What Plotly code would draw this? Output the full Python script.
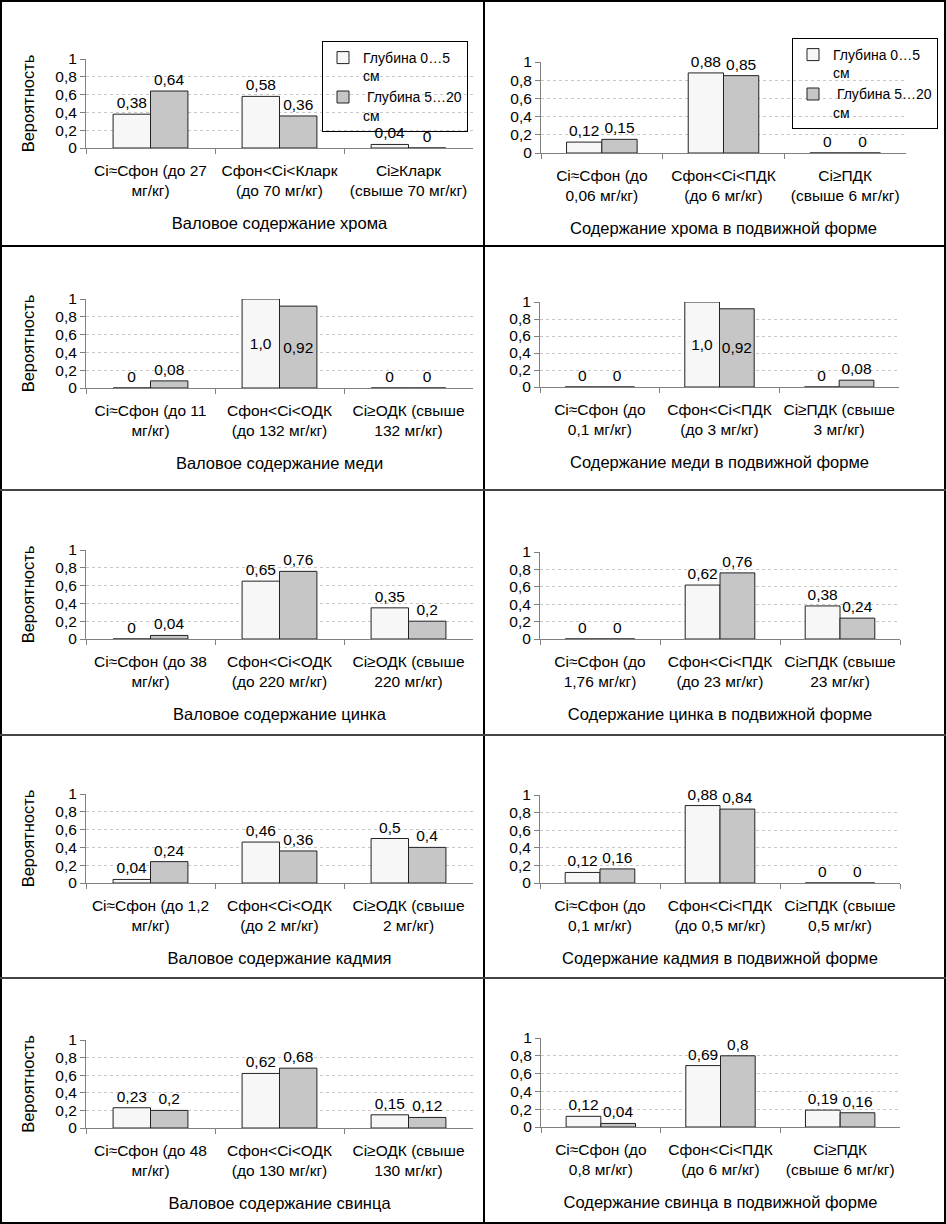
import plotly.graph_objects as go

W, H = 946, 1224

# ---------------- data ----------------
cats_cr_total = ["Ci≈Сфон (до 27<br>мг/кг)", "Сфон<Ci<Кларк<br>(до 70 мг/кг)", "Ci≥Кларк<br>(свыше 70 мг/кг)"]
cr_total_0_5 = [0.38, 0.58, 0.04]
cr_total_5_20 = [0.64, 0.36, 0.0]

cats_cr_mob = ["Ci≈Сфон (до<br>0,06 мг/кг)", "Сфон<Ci<ПДК<br>(до 6 мг/кг)", "Ci≥ПДК<br>(свыше 6 мг/кг)"]
cr_mob_0_5 = [0.12, 0.88, 0.0]
cr_mob_5_20 = [0.15, 0.85, 0.0]

cats_cu_total = ["Ci≈Сфон (до 11<br>мг/кг)", "Сфон<Ci<ОДК<br>(до 132 мг/кг)", "Ci≥ОДК (свыше<br>132 мг/кг)"]
cu_total_0_5 = [0.0, 1.0, 0.0]
cu_total_5_20 = [0.08, 0.92, 0.0]

cats_cu_mob = ["Ci≈Сфон (до<br>0,1 мг/кг)", "Сфон<Ci<ПДК<br>(до 3 мг/кг)", "Ci≥ПДК (свыше<br>3 мг/кг)"]
cu_mob_0_5 = [0.0, 1.0, 0.0]
cu_mob_5_20 = [0.0, 0.92, 0.08]

cats_zn_total = ["Ci≈Сфон (до 38<br>мг/кг)", "Сфон<Ci<ОДК<br>(до 220 мг/кг)", "Ci≥ОДК (свыше<br>220 мг/кг)"]
zn_total_0_5 = [0.0, 0.65, 0.35]
zn_total_5_20 = [0.04, 0.76, 0.2]

cats_zn_mob = ["Ci≈Сфон (до<br>1,76 мг/кг)", "Сфон<Ci<ПДК<br>(до 23 мг/кг)", "Ci≥ПДК (свыше<br>23 мг/кг)"]
zn_mob_0_5 = [0.0, 0.62, 0.38]
zn_mob_5_20 = [0.0, 0.76, 0.24]

cats_cd_total = ["Ci≈Сфон (до 1,2<br>мг/кг)", "Сфон<Ci<ОДК<br>(до 2 мг/кг)", "Ci≥ОДК (свыше<br>2 мг/кг)"]
cd_total_0_5 = [0.04, 0.46, 0.5]
cd_total_5_20 = [0.24, 0.36, 0.4]

cats_cd_mob = ["Ci≈Сфон (до<br>0,1 мг/кг)", "Сфон<Ci<ПДК<br>(до 0,5 мг/кг)", "Ci≥ПДК (свыше<br>0,5 мг/кг)"]
cd_mob_0_5 = [0.12, 0.88, 0.0]
cd_mob_5_20 = [0.16, 0.84, 0.0]

cats_pb_total = ["Ci≈Сфон (до 48<br>мг/кг)", "Сфон<Ci<ОДК<br>(до 130 мг/кг)", "Ci≥ОДК (свыше<br>130 мг/кг)"]
pb_total_0_5 = [0.23, 0.62, 0.15]
pb_total_5_20 = [0.2, 0.68, 0.12]

cats_pb_mob = ["Ci≈Сфон (до<br>0,8 мг/кг)", "Сфон<Ci<ПДК<br>(до 6 мг/кг)", "Ci≥ПДК<br>(свыше 6 мг/кг)"]
pb_mob_0_5 = [0.12, 0.69, 0.19]
pb_mob_5_20 = [0.04, 0.8, 0.16]

titles = [
    "Валовое содержание хрома", "Содержание хрома в подвижной форме",
    "Валовое содержание меди", "Содержание меди в подвижной форме",
    "Валовое содержание цинка", "Содержание цинка в подвижной форме",
    "Валовое содержание кадмия", "Содержание кадмия в подвижной форме",
    "Валовое содержание свинца", "Содержание свинца в подвижной форме",
]
series_names = ["Глубина 0…5<br>см", "&nbsp;Глубина 5…20<br>см"]
y_title = "Вероятность"

panels = [
    (cats_cr_total, cr_total_0_5, cr_total_5_20),
    (cats_cr_mob, cr_mob_0_5, cr_mob_5_20),
    (cats_cu_total, cu_total_0_5, cu_total_5_20),
    (cats_cu_mob, cu_mob_0_5, cu_mob_5_20),
    (cats_zn_total, zn_total_0_5, zn_total_5_20),
    (cats_zn_mob, zn_mob_0_5, zn_mob_5_20),
    (cats_cd_total, cd_total_0_5, cd_total_5_20),
    (cats_cd_mob, cd_mob_0_5, cd_mob_5_20),
    (cats_pb_total, pb_total_0_5, pb_total_5_20),
    (cats_pb_mob, pb_mob_0_5, pb_mob_5_20),
]

# ---------------- geometry (pixels: x_left, x_right, y_top(=1), y_bottom(=0)) ----------------
geom = [
    (86, 473, 59, 148), (541, 906, 62, 153),
    (86, 473, 299, 388), (540, 899, 302, 387),
    (86, 473, 550, 639), (540, 900, 552, 639),
    (86, 473, 794, 883), (540, 900, 795, 883),
    (86, 473, 1040, 1128), (541, 900, 1038, 1127),
]

FONT = "Liberation Sans"
FILL = ["#F7F7F7", "#C6C6C6"]


def fmt(v):
    if v == 1:
        return "1,0"
    return f"{v:g}".replace(".", ",")


fig = go.Figure()
layout = dict(
    width=W, height=H,
    margin=dict(l=0, r=0, t=0, b=0, autoexpand=False),
    paper_bgcolor="white", plot_bgcolor="white",
    separators=", ",
    barmode="group", bargap=0.42, bargroupgap=0,
    font=dict(family=FONT, size=16, color="black"),
    showlegend=True,
)

for i, (cats, s1, s2) in enumerate(panels):
    n = "" if i == 0 else str(i + 1)
    xl, xr, yt, yb = geom[i]
    for j, vals in enumerate((s1, s2)):
        pos = ["inside" if v >= 0.9 else "outside" for v in vals]
        trace = go.Bar(
            x=cats, y=vals, name=series_names[j],
            xaxis="x" + n, yaxis="y" + n,
            marker=dict(color=FILL[j], line=dict(color="#222222", width=1)),
            text=[fmt(v) for v in vals], textposition=pos,
            insidetextanchor="middle", textangle=0,
            textfont=dict(family=FONT, size=15.5, color="black"),
            constraintext="none", cliponaxis=False,
            showlegend=(i < 2), hoverinfo="skip",
        )
        if i == 1:
            trace.legend = "legend2"
        fig.add_trace(trace)

    layout["xaxis" + n] = dict(
        domain=[xl / W, xr / W], anchor="y" + n, automargin=False,
        type="category", range=[-0.5, 2.5],
        showline=True, linecolor="#808080", linewidth=1,
        ticks="outside", tickson="boundaries", ticklen=5, tickcolor="#808080",
        ticklabelstandoff=8, tickangle=0,
        tickfont=dict(family=FONT, size=15.5, color="black"),
        showgrid=False,
        title=dict(text=titles[i], font=dict(family=FONT, size=16.5, color="black"), standoff=19),
    )
    ydict = dict(
        domain=[1 - yb / H, 1 - yt / H], anchor="x" + n, automargin=False,
        range=[0, 1], dtick=0.2, tick0=0,
        showline=True, linecolor="#808080", linewidth=1,
        ticks="outside", ticklen=5, tickcolor="#808080",
        tickfont=dict(family=FONT, size=15.5, color="black"),
        showgrid=True, gridcolor="#C8C8C8", griddash="dot", gridwidth=1,
        zeroline=False,
    )
    if i % 2 == 0:
        ydict["title"] = dict(text=y_title, font=dict(family=FONT, size=16.5, color="black"), standoff=16)
    layout["yaxis" + n] = ydict

legend_common = dict(
    xanchor="left", yanchor="top",
    bordercolor="black", borderwidth=1, bgcolor="rgba(255,255,255,0)",
    font=dict(family=FONT, size=14, color="black"),
    valign="top", tracegroupgap=0, itemwidth=30,
)
layout["legend"] = dict(x=322 / W, y=1 - 41 / H, **legend_common)
layout["legend2"] = dict(x=792 / W, y=1 - 38 / H, **legend_common)

# cell borders
shapes = []
def line(x0, y0, x1, y1, color="black", width=2):
    shapes.append(dict(type="line", xref="paper", yref="paper",
                       x0=x0 / W, y0=1 - y0 / H, x1=x1 / W, y1=1 - y1 / H,
                       line=dict(color=color, width=width)))

line(1, 0, 1, H)
line(W - 1, 0, W - 1, H)
line(0, 1, W, 1)
line(0, H - 1, W, H - 1)
line(484, 0, 484, H)
line(0, 246, W, 246, color="black", width=2)
for yy in (490, 735, 978):
    line(0, yy, W, yy, color="#444444", width=2)
layout["shapes"] = shapes

fig.update_layout(**layout)
fig.write_html(
    "out.html",
    config={"displayModeBar": False},
    post_script=(
        "document.documentElement.style.margin='0';"
        "document.documentElement.style.overflow='hidden';"
        "document.body.style.margin='0';document.body.style.padding='0';"
        "document.body.style.overflow='hidden';"
        "var g=document.getElementById('{plot_id}');"
        "g.style.position='absolute';g.style.left='0px';g.style.top='0px';"
    ),
)
